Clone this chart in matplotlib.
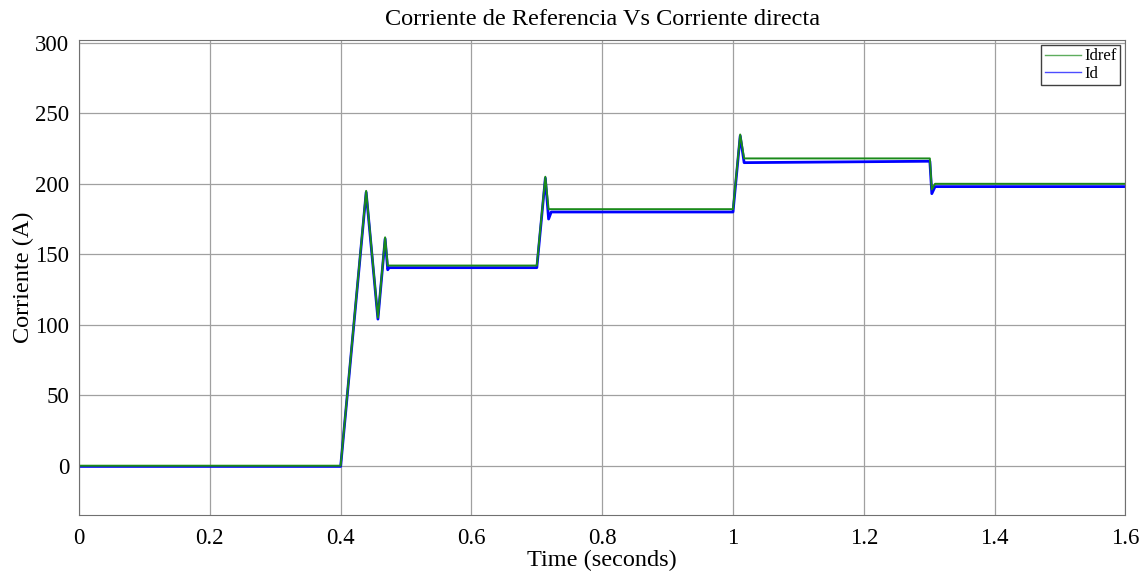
import matplotlib.pyplot as plt
import numpy as np

plt.rcParams['font.family'] = ['Liberation Serif', 'DejaVu Serif']

# puntos principales (tiempo en s, corriente en A)
t_idref = [0, 0.40, 0.439, 0.457, 0.468, 0.472, 0.700, 0.713, 0.718, 1.000, 1.011, 1.017, 1.301, 1.304, 1.309, 1.60]
idref = [0, 0, 195, 105, 162, 142, 142, 205, 182, 182, 235, 218, 218, 196, 200, 200]

t_id = [0, 0.40, 0.439, 0.457, 0.468, 0.472, 0.474, 0.700, 0.713, 0.718, 0.722, 1.000, 1.011, 1.017, 1.301, 1.304, 1.309, 1.60]
id_ = [-0.5, -0.5, 194, 104, 161, 139, 140.5, 140.5, 204, 175, 180, 180, 234, 215, 216, 193, 198, 198]

xticks = [0, 0.2, 0.4, 0.6, 0.8, 1.0, 1.2, 1.4, 1.6]
xticklabels = ["0", "0.2", "0.4", "0.6", "0.8", "1", "1.2", "1.4", "1.6"]
yticks = [0, 50, 100, 150, 200, 250, 300]

fig = plt.figure(figsize=(11.46, 5.8), dpi=100)
ax = fig.add_axes([0.069, 0.112, 0.913, 0.819])

l_id, = ax.plot(t_id, id_, color="#0000ff", linewidth=2.0, label="Id")
l_ref, = ax.plot(t_idref, idref, color="#1a8a1a", linewidth=1.4, label="Idref")

ax.set_xlim(0, 1.6)
ax.set_ylim(-35, 302)
ax.set_xticks(xticks)
ax.set_xticklabels(xticklabels)
ax.set_yticks(yticks)
ax.tick_params(axis="x", labelsize=16.5, length=0, pad=9)
ax.tick_params(axis="y", labelsize=16.5, length=0, pad=7)
ax.grid(True, color="#a0a0a0", linewidth=0.9)
for s in ax.spines.values():
    s.set_color("#707070")

ax.set_title("Corriente de Referencia Vs Corriente directa", fontsize=17.5, pad=11)
ax.set_xlabel("Time (seconds)", fontsize=17.5, labelpad=1)
ax.set_ylabel("Corriente (A)", fontsize=17.5, labelpad=1)

leg = ax.legend([l_ref, l_id], ["Idref", "Id"], loc="upper right", fontsize=12,
                fancybox=False, framealpha=1, edgecolor="#404040",
                handlelength=2.2, handletextpad=0.2, borderpad=0.2, labelspacing=0.1,
                borderaxespad=0.3)
for h in leg.get_lines():
    h.set_linewidth(1.0)
    h.set_alpha(0.7)

fig.savefig("out.png")
